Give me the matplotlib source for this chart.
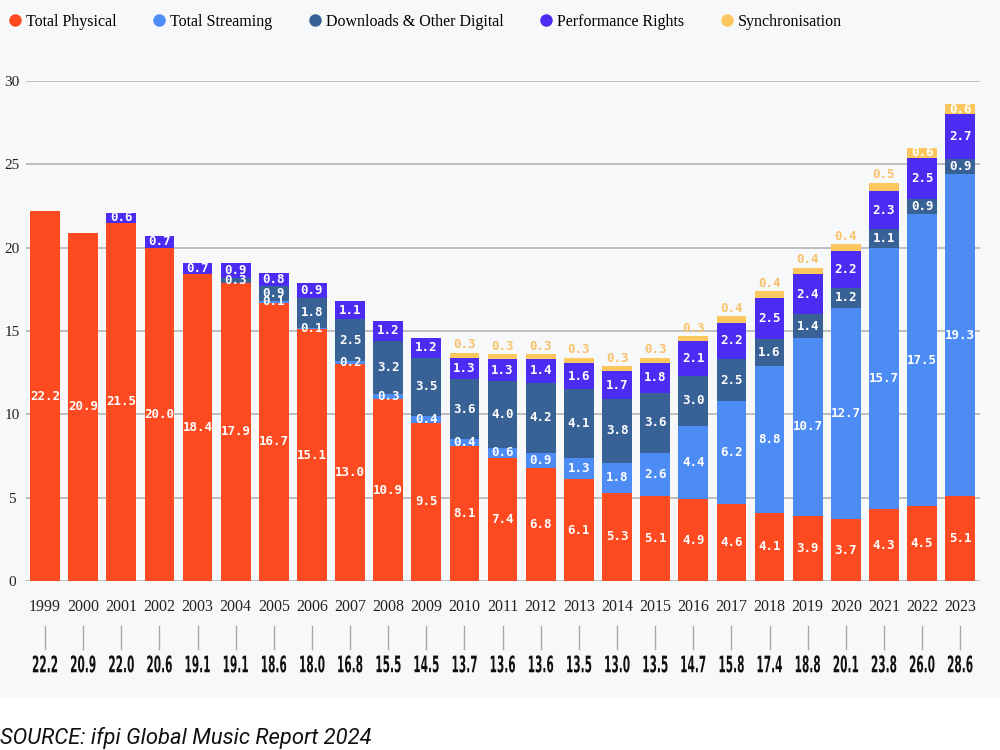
import matplotlib
matplotlib.use("Agg")
import matplotlib.pyplot as plt
from matplotlib.lines import Line2D
from matplotlib.patches import Rectangle
from matplotlib.transforms import blended_transform_factory, Affine2D
from matplotlib.patheffects import AbstractPathEffect
import numpy as np

years = [str(y) for y in range(1999, 2024)]
physical = [22.2, 20.9, 21.5, 20.0, 18.4, 17.9, 16.7, 15.1, 13.0, 10.9, 9.5, 8.1, 7.4,
            6.8, 6.1, 5.3, 5.1, 4.9, 4.6, 4.1, 3.9, 3.7, 4.3, 4.5, 5.1]
streaming = [0, 0, 0, 0, 0, 0, 0.1, 0.1, 0.2, 0.3, 0.4, 0.4, 0.6,
             0.9, 1.3, 1.8, 2.6, 4.4, 6.2, 8.8, 10.7, 12.7, 15.7, 17.5, 19.3]
downloads = [0, 0, 0, 0, 0, 0.3, 0.9, 1.8, 2.5, 3.2, 3.5, 3.6, 4.0,
             4.2, 4.1, 3.8, 3.6, 3.0, 2.5, 1.6, 1.4, 1.2, 1.1, 0.9, 0.9]
performance = [0, 0, 0.6, 0.7, 0.7, 0.9, 0.8, 0.9, 1.1, 1.2, 1.2, 1.3, 1.3,
               1.4, 1.6, 1.7, 1.8, 2.1, 2.2, 2.5, 2.4, 2.2, 2.3, 2.5, 2.7]
sync = [0, 0, 0, 0, 0, 0, 0, 0, 0, 0, 0, 0.3, 0.3,
        0.3, 0.3, 0.3, 0.3, 0.3, 0.4, 0.4, 0.4, 0.4, 0.5, 0.6, 0.6]
totals = [22.2, 20.9, 22.0, 20.6, 19.1, 19.1, 18.6, 18.0, 16.8, 15.5, 14.5, 13.7, 13.6,
          13.6, 13.5, 13.0, 13.5, 14.7, 15.8, 17.4, 18.8, 20.1, 23.8, 26.0, 28.6]

series_names = ["Total Physical", "Total Streaming", "Downloads & Other Digital",
                "Performance Rights", "Synchronisation"]
series_vals = [physical, streaming, downloads, performance, sync]
colors = ["#fd4a20", "#4d8cf5", "#386196", "#4a2cf3", "#fcc75f"]
sync_label_color = "#f6c36a"

serif = ["Liberation Serif", "DejaVu Serif"]
mono = ["DejaVu Sans Mono"]


class Stretch(AbstractPathEffect):
    """Draw text scaled around its own centre (tall, condensed look)."""

    def __init__(self, sx, sy):
        super().__init__()
        self.sx = sx
        self.sy = sy

    def draw_path(self, renderer, gc, tpath, affine, rgbFace=None):
        ext = tpath.get_extents(affine)
        cx = 0.5 * (ext.x0 + ext.x1)
        cy = 0.5 * (ext.y0 + ext.y1)
        new = affine + Affine2D().translate(-cx, -cy).scale(self.sx, self.sy).translate(cx, cy)
        renderer.draw_path(gc, tpath, new, rgbFace)


fig = plt.figure(figsize=(10, 7.5), dpi=100)
fig.patch.set_facecolor("white")
fig.patches.append(Rectangle((0, 52 / 750), 1, 698 / 750, transform=fig.transFigure,
                             facecolor="#f7f8fa", edgecolor="none", zorder=-10))

ax = fig.add_axes([0.026, 169 / 750, 0.954, 500 / 750])
ax.set_facecolor("none")
ax.set_xlim(-0.5, 24.52)
ax.set_ylim(0, 30)
for s in ax.spines.values():
    s.set_visible(False)

ax.set_yticks(range(0, 31, 5))
ax.set_yticklabels([str(v) for v in range(0, 31, 5)], fontfamily=serif, fontsize=11,
                   color="#222222")
for lab in ax.get_yticklabels():
    lab.set_horizontalalignment("center")
ax.tick_params(axis="y", length=0, pad=10)
ax.yaxis.grid(True, color="#b4b4b4", linewidth=1.2, zorder=0)
ax.set_axisbelow(True)
ax.set_xticks([])

x = np.arange(len(years))
bottom = np.zeros(len(years))
for name, vals, c in zip(series_names, series_vals, colors):
    vals = np.array(vals, dtype=float)
    ax.bar(x, vals, bottom=bottom, width=0.78, color=c, zorder=3, label=name,
           edgecolor="none")
    for i, v in enumerate(vals):
        if v <= 0:
            continue
        if name == "Synchronisation" and v < 0.6:
            ax.text(x[i], bottom[i] + v + 0.08, f"{v:.1f}", ha="center", va="bottom",
                    fontfamily=mono, fontweight="bold", fontsize=9,
                    color=sync_label_color, zorder=5)
        else:
            ax.text(x[i], bottom[i] + v / 2, f"{v:.1f}", ha="center", va="center",
                    fontfamily=mono, fontweight="bold", fontsize=9,
                    color="white", zorder=5)
    bottom += vals

trans = blended_transform_factory(ax.transData, fig.transFigure)
for i, (yr, tot) in enumerate(zip(years, totals)):
    ax.text(x[i], 1 - 607 / 750, yr, transform=trans, ha="center", va="center",
            fontfamily=serif, fontsize=11.5, color="#222222")
    ax.add_line(Line2D([x[i], x[i]], [1 - 626 / 750, 1 - 649 / 750], transform=trans,
                       color="#a8a8a8", linewidth=1, clip_on=False))
    ax.text(x[i], 1 - 665 / 750, f"{tot:.1f}", transform=trans, ha="center",
            va="center", fontfamily="DejaVu Sans", fontweight="bold", fontsize=8,
            color="#111111", path_effects=[Stretch(0.95, 2.05)])

handles = [Line2D([0], [0], marker="o", linestyle="none", markersize=9,
                  markerfacecolor=c, markeredgecolor="none") for c in colors]
fig.legend(handles, series_names, loc="center left", bbox_to_anchor=(0.0086, 1 - 22 / 750),
           ncol=5, frameon=False, handletextpad=0.3, columnspacing=2.25,
           handlelength=0.8, borderpad=0, borderaxespad=0,
           prop={"family": serif, "size": 11.5})

fig.text(0.0, 1 - 738 / 750, "SOURCE: ifpi Global Music Report 2024", ha="left",
         va="center", fontfamily=["Roboto", "DejaVu Sans"], fontstyle="italic",
         fontsize=15.8, color="#111111")

fig.savefig("out.png", dpi=100, facecolor=fig.get_facecolor())
